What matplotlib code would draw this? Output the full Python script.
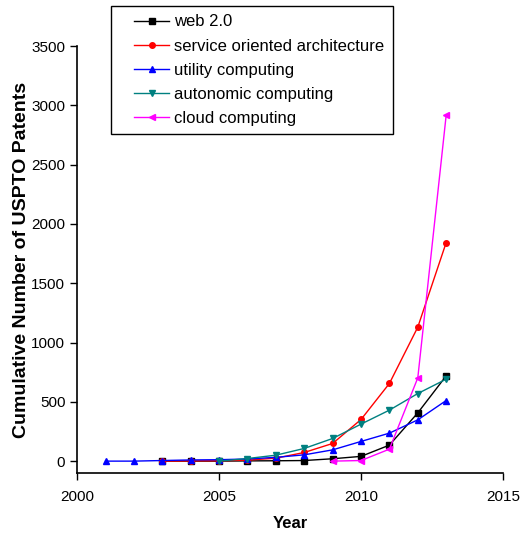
import numpy as np
import matplotlib
matplotlib.use('Agg')
import matplotlib.pyplot as plt
from matplotlib.lines import Line2D
from matplotlib.legend_handler import HandlerLine2D

plt.rcParams['font.family'] = ['Liberation Sans', 'DejaVu Sans']

years_web = [2003, 2004, 2005, 2006, 2007, 2008, 2009, 2010, 2011, 2012, 2013]
web20 = [0, 0, 0, 2, 3, 5, 20, 40, 135, 407, 719]

years_soa = [2003, 2004, 2005, 2006, 2007, 2008, 2009, 2010, 2011, 2012, 2013]
soa = [0, 2, 3, 8, 25, 73, 149, 351, 655, 1130, 1843]

years_util = [2001, 2002, 2003, 2004, 2005, 2006, 2007, 2008, 2009, 2010, 2011, 2012, 2013]
utility = [0, 0, 5, 10, 12, 18, 32, 53, 95, 166, 236, 348, 511]

years_auto = [2005, 2006, 2007, 2008, 2009, 2010, 2011, 2012, 2013]
autonomic = [0, 22, 50, 107, 191, 312, 430, 570, 691]

years_cloud = [2009, 2010, 2011, 2012, 2013]
cloud = [0, 5, 101, 702, 2917]

fig = plt.figure(figsize=(5.25, 5.33), dpi=100)
ax = fig.add_axes([0.147, 0.1126, 0.811, 0.801])

ms = 4
ax.plot(years_web, web20, color='black', marker='s', ms=ms, lw=1, label='web 2.0')
ax.plot(years_soa, soa, color='red', marker='o', ms=ms, lw=1, label='service oriented architecture')
ax.plot(years_util, utility, color='blue', marker='^', ms=ms, lw=1, label='utility computing')
ax.plot(years_auto, autonomic, color='#008080', marker='v', ms=ms, lw=1, label='autonomic computing')
ax.plot(years_cloud, cloud, color='magenta', marker='<', ms=ms, lw=1, label='cloud computing')

ax.set_xlim(2000, 2015)
ax.set_ylim(-100, 3500)
ax.set_xticks([2000, 2005, 2010, 2015])
ax.set_yticks([0, 500, 1000, 1500, 2000, 2500, 3000, 3500])
ax.spines['top'].set_visible(False)
ax.spines['right'].set_visible(False)
ax.spines['left'].set_linewidth(1.2)
ax.spines['bottom'].set_linewidth(1.2)
ax.tick_params(direction='out', length=5, width=1, labelsize=11)
ax.tick_params(axis='x', pad=7)

ax.set_xlabel('Year', fontsize=12, fontweight='bold', labelpad=9)
ax.set_ylabel('Cumulative Number of USPTO Patents', fontsize=14, fontweight='bold', labelpad=1)

fig.legend(loc='upper left', bbox_to_anchor=(0.2114, 0.9887), borderaxespad=0, fontsize=12,
           frameon=True, fancybox=False, edgecolor='black', framealpha=1,
           handlelength=3.0, borderpad=0.5, labelspacing=0.55, handletextpad=0.3,
           handler_map={Line2D: HandlerLine2D(xpad=0.9)})

fig.savefig('out.png', dpi=100)
